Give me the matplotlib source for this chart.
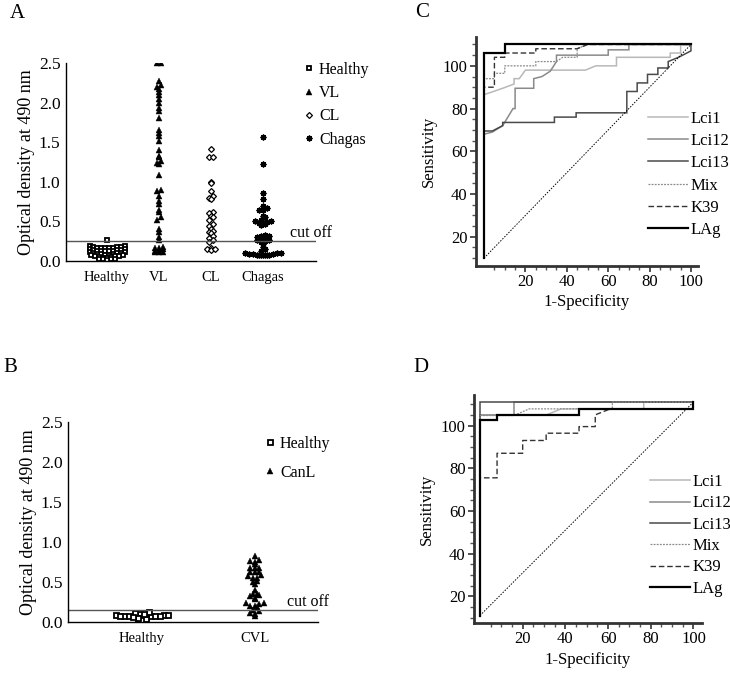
import numpy as np
import matplotlib
matplotlib.use('Agg')
import matplotlib.pyplot as plt
from matplotlib.lines import Line2D

plt.rcParams['font.family'] = ['Liberation Serif', 'DejaVu Serif']

#---DATA: ELISA optical densities
groups_a = ['Healthy', 'VL', 'CL', 'Chagas']
healthy_a = [0.27, 0.19, 0.19, 0.18, 0.18, 0.18, 0.17, 0.17, 0.17, 0.16, 0.16,
             0.15, 0.15, 0.14, 0.14, 0.14, 0.13, 0.13, 0.13, 0.12, 0.12,
             0.11, 0.11, 0.10, 0.10, 0.10, 0.09, 0.09, 0.09, 0.08, 0.08,
             0.07, 0.07, 0.06, 0.06, 0.06, 0.05, 0.05, 0.04, 0.04,
             0.03, 0.03, 0.02, 0.02, 0.01]
vl = [2.50, 2.50, 2.27, 2.22, 2.20, 2.17, 2.13, 2.10, 2.05, 2.00, 1.93, 1.90, 1.80,
      1.65, 1.62, 1.58, 1.52, 1.40, 1.33, 1.31, 1.26, 1.24, 1.22, 1.08, 0.90, 0.88,
      0.82, 0.76, 0.72, 0.64, 0.62, 0.55, 0.52, 0.40, 0.36, 0.30, 0.27, 0.18, 0.17,
      0.16, 0.15, 0.12, 0.11, 0.11, 0.11, 0.12]
cl = [1.41, 1.31, 1.31, 1.00, 0.98, 0.89, 0.82, 0.80, 0.78, 0.62, 0.60, 0.57, 0.55,
      0.52, 0.47, 0.44, 0.40, 0.38, 0.36, 0.35, 0.31, 0.29, 0.26, 0.24, 0.16, 0.15,
      0.14, 0.15]
chagas = [1.57, 1.23, 0.86, 0.78, 0.70, 0.67, 0.65, 0.64, 0.57, 0.55, 0.52, 0.51,
          0.50, 0.49, 0.48, 0.48, 0.47, 0.46, 0.33, 0.32, 0.31, 0.30, 0.29, 0.28,
          0.27, 0.26, 0.25, 0.24, 0.22, 0.18, 0.15, 0.12, 0.10, 0.09, 0.09, 0.08,
          0.08, 0.07, 0.07, 0.07, 0.08, 0.08, 0.09, 0.10, 0.10]
cutoff_a = 0.25

groups_b = ['Healthy', 'CVL']
healthy_b = [0.10, 0.09, 0.09, 0.08, 0.07, 0.07, 0.06, 0.12, 0.11, 0.05, 0.04, 0.03,
             0.04, 0.05, 0.06, 0.07, 0.08, 0.08, 0.09, 0.10]
cvl = [0.82, 0.77, 0.76, 0.75, 0.73, 0.68, 0.68, 0.67, 0.63, 0.63, 0.62, 0.59, 0.58,
       0.55, 0.55, 0.51, 0.50, 0.47, 0.40, 0.35, 0.35, 0.34, 0.33, 0.30, 0.29, 0.24,
       0.24, 0.23, 0.20, 0.20, 0.19, 0.15, 0.14, 0.11, 0.10, 0.07]
cutoff_b = 0.15

#---DATA: ROC curves (1-specificity, sensitivity) as drawn
roc_names = ['Lci1', 'Lci12', 'Lci13', 'Mix', 'K39', 'LAg']

c_lci1_x = [0, 0, 9, 14.5, 14.5, 17, 20, 49, 54, 64, 64, 90, 90, 95, 95, 100]
c_lci1_y = [10, 86.5, 89.5, 91.5, 94, 94, 98, 98, 100, 100, 104, 104, 106, 106, 110, 110]
c_lci12_x = [0, 0, 4, 9, 14, 15, 15, 24, 24, 28, 32, 35, 35, 60, 60, 70, 70, 100]
c_lci12_y = [10, 68, 69, 72, 80, 80, 89.5, 89.5, 94, 95, 97.5, 102, 105, 105, 107.5, 107.5, 110, 110]
c_lci13_x = [0, 0, 4, 9, 9, 34, 34, 44.5, 44.5, 69, 69, 74, 74, 79, 79, 84, 84, 89, 89, 94, 100, 100]
c_lci13_y = [10, 69.5, 69.5, 72, 73.5, 73.5, 76, 76, 78, 78, 88, 88, 92, 92, 96, 96, 99, 99, 102, 104, 107, 110]
c_mix_x = [0, 0, 5, 5, 10, 10, 25, 25, 35, 38, 45, 45, 50, 100]
c_mix_y = [10, 94, 94, 96.5, 96.5, 100, 100, 102, 102, 104, 104, 108, 110, 110]
c_k39_x = [0, 0, 5, 5, 10, 10, 25, 25, 45, 50, 100]
c_k39_y = [10, 90, 90, 104, 104, 106, 106, 108, 108, 110, 110]
c_lag_x = [0, 0, 10, 10, 100]
c_lag_y = [10, 106, 106, 110, 110]

d_lci1_x = [0, 0, 31, 38, 76.7, 76.7, 100]
d_lci1_y = [11, 104.9, 104.9, 107.8, 107.8, 111, 111]
d_lci12_x = [0, 0, 16, 16, 100]
d_lci12_y = [11, 104.9, 104.9, 111, 111]
d_lci13_x = [0, 0, 100]
d_lci13_y = [11, 111, 111]
d_mix_x = [0, 0, 16, 23, 62, 62, 100]
d_mix_y = [11, 104.7, 104.7, 107.8, 107.8, 111, 111]
d_k39_x = [0, 0, 8, 8, 20, 20, 31, 31, 46.4, 46.4, 54, 54, 61, 100]
d_k39_y = [11, 75.5, 75.5, 87, 87, 93, 93, 96.4, 96.4, 99.5, 99.5, 105, 107.8, 107.8]
d_lag_x = [0, 0, 8, 8, 46.4, 46.4, 100, 100]
d_lag_y = [11, 102.5, 102.5, 105, 105, 107.8, 107.8, 111]

# line styles for the six antigens
roc_styles = {
    'Lci1': dict(color='#b8b8b8', lw=1.1, ls='-'),
    'Lci12': dict(color='#8a8a8a', lw=1.1, ls='-'),
    'Lci13': dict(color='#4a4a4a', lw=1.1, ls='-'),
    'Mix': dict(color='#8a8a8a', lw=0.9, ls=(0, (1.5, 1))),
    'K39': dict(color='#333333', lw=1.0, ls=(0, (4, 2))),
    'LAg': dict(color='#000000', lw=1.6, ls='-'),
}

W, H = 730, 673
fig = plt.figure(figsize=(W / 100, H / 100), dpi=100)


def px_axes(left, top, right, bottom):
    return fig.add_axes([left / W, 1 - bottom / H, (right - left) / W, (bottom - top) / H])


def swarm(vals, center, dy, dx):
    # simple dot-plot layout: bin values, spread each bin sideways, lowest in the middle
    vals = np.asarray(vals, dtype=float)
    xs = np.zeros(len(vals))
    bins = np.floor(vals / dy + 1e-6).astype(int)
    for b in np.unique(bins):
        idx = np.where(bins == b)[0]
        idx = idx[np.argsort(vals[idx], kind='stable')]
        n = len(idx)
        slots = sorted(range(n), key=lambda k: (abs(k - (n - 1) / 2), k))
        for i, s in zip(idx, slots):
            xs[i] = center + (s - (n - 1) / 2) * dx
    return xs


def dot_axes(ax, xlim):
    ax.set_xlim(*xlim)
    ax.set_ylim(0, 2.5)
    ax.set_yticks([0, 0.5, 1.0, 1.5, 2.0, 2.5])
    ax.set_yticklabels(['0.0', '0.5', '1.0', '1.5', '2.0', '2.5'])
    for s in ['top', 'right']:
        ax.spines[s].set_visible(False)
    ax.spines['left'].set_linewidth(1.0)
    ax.spines['bottom'].set_linewidth(1.0)
    ax.tick_params(axis='y', length=0, pad=4, labelsize=12.5)
    ax.tick_params(axis='x', length=0, pad=7, labelsize=10.5)
    ax.set_ylabel('Optical density at 490 nm', fontsize=13, labelpad=3)


#---PANEL A
axA = px_axes(66, 63, 316, 261)
dot_axes(axA, (0.21, 5.02))
ppu = 52.0
mk = [('s', healthy_a, dict(mfc='white', mec='black', mew=1.3, ms=3.2)),
      ('^', vl, dict(mfc='black', mec='black', mew=0.3, ms=4.0)),
      ('D', cl, dict(mfc='white', mec='black', mew=0.9, ms=3.0)),
      ((8, 2, 0), chagas, dict(mfc='black', mec='black', mew=1.0, ms=4.2))]
handles_a = []
for i, (m, vals, kw) in enumerate(mk):
    xs = swarm(vals, i + 1, 0.04, 3.9 / ppu)
    axA.plot(xs, vals, ls='none', marker=m, **kw)
    handles_a.append(Line2D([], [], ls='none', marker=m, **kw))
axA.set_xticks([1, 2, 3, 4])
axA.set_xticklabels(groups_a)
axA.axhline(cutoff_a, color='#555555', lw=1.0)
axA.annotate('cut off', xy=(1.0, cutoff_a), xycoords=('axes fraction', 'data'),
             xytext=(-19, 3), textcoords='offset points', fontsize=11.5,
             ha='left', va='baseline', annotation_clip=False)
axA.legend(handles_a, groups_a, loc='upper left', bbox_to_anchor=(303 / W, 1 - 62 / H),
           bbox_transform=fig.transFigure, frameon=False, fontsize=11.5,
           handlelength=0.8, handletextpad=0.2, labelspacing=0.45,
           borderpad=0, borderaxespad=0, markerscale=1.0)

#---PANEL B
axB = px_axes(68, 422, 318, 622)
dot_axes(axB, (0.345, 2.56))
ppu = 113.0
mk_b = [('s', healthy_b, dict(mfc='white', mec='black', mew=1.3, ms=3.6)),
        ('^', cvl, dict(mfc='black', mec='black', mew=0.3, ms=4.2))]
handles_b = []
for i, (m, vals, kw) in enumerate(mk_b):
    xs = swarm(vals, i + 1, 0.05, 4.4 / ppu)
    axB.plot(xs, vals, ls='none', marker=m, **kw)
    handles_b.append(Line2D([], [], ls='none', marker=m, **kw))
axB.set_xticks([1, 2])
axB.set_xticklabels(groups_b)
axB.axhline(cutoff_b, color='#555555', lw=1.0)
axB.annotate('cut off', xy=(1.0, cutoff_b), xycoords=('axes fraction', 'data'),
             xytext=(-22, 3), textcoords='offset points', fontsize=11.5,
             ha='left', va='baseline', annotation_clip=False)
axB.legend(handles_b, ['Healthy', 'CanL'], loc='upper left',
           bbox_to_anchor=(264 / W, 1 - 436 / H), bbox_transform=fig.transFigure,
           frameon=False, fontsize=11.5, handlelength=0.8, handletextpad=0.2,
           labelspacing=0.8, borderpad=0, borderaxespad=0)


#---ROC PANELS
def roc_axes(ax, curves, diag, xlim, ylim, leg_anchor, spacing):
    for name, (xs, ys) in zip(roc_names, curves):
        ax.plot(xs, ys, label=name, solid_joinstyle='miter', **roc_styles[name])
    ax.plot([0, 100], diag, color='black', lw=0.7, ls=(0, (1.5, 1.5)))
    ax.set_xlim(*xlim)
    ax.set_ylim(*ylim)
    ax.set_xticks([20, 40, 60, 80, 100])
    ax.set_xticks(np.arange(5, 101, 5), minor=True)
    ax.set_yticks([20, 40, 60, 80, 100])
    ax.set_yticks(np.arange(10, 111, 5), minor=True)
    for s in ['top', 'right']:
        ax.spines[s].set_visible(False)
    for s in ['left', 'bottom']:
        ax.spines[s].set_linewidth(2.0)
        ax.spines[s].set_color('#333333')
    ax.tick_params(which='major', length=4, width=1.2, color='#333333', labelsize=12, pad=2)
    ax.tick_params(which='minor', length=3, width=1.0, color='#555555')
    ax.set_xlabel('1-Specificity', fontsize=12, labelpad=3)
    ax.set_ylabel('Sensitivity', fontsize=12, labelpad=4)
    ax.legend(loc='upper left', bbox_to_anchor=leg_anchor, bbox_transform=fig.transFigure,
              frameon=False, fontsize=12, handlelength=2.4, handletextpad=0.15,
              labelspacing=spacing, borderpad=0, borderaxespad=0)


axC = px_axes(476, 37, 698, 266)
roc_axes(axC,
         [(c_lci1_x, c_lci1_y), (c_lci12_x, c_lci12_y), (c_lci13_x, c_lci13_y),
          (c_mix_x, c_mix_y), (c_k39_x, c_k39_y), (c_lag_x, c_lag_y)],
         [10, 110], (-3.9, 103.4), (6.3, 113.5), (648 / W, 1 - 111 / H), 0.37)

axD = px_axes(474, 395, 702, 623)
roc_axes(axD,
         [(d_lci1_x, d_lci1_y), (d_lci12_x, d_lci12_y), (d_lci13_x, d_lci13_y),
          (d_mix_x, d_mix_y), (d_k39_x, d_k39_y), (d_lag_x, d_lag_y)],
         [11, 111], (-2.8, 104), (7.5, 114.3), (650 / W, 1 - 474 / H), 0.32)

#---PANEL LETTERS
for letter, x, y in [('A', 10, 18), ('B', 3, 372), ('C', 415, 17), ('D', 413, 372)]:
    fig.text(x / W, 1 - y / H, letter, fontsize=15, va='baseline', ha='left')

fig.savefig('out.png', dpi=100)
